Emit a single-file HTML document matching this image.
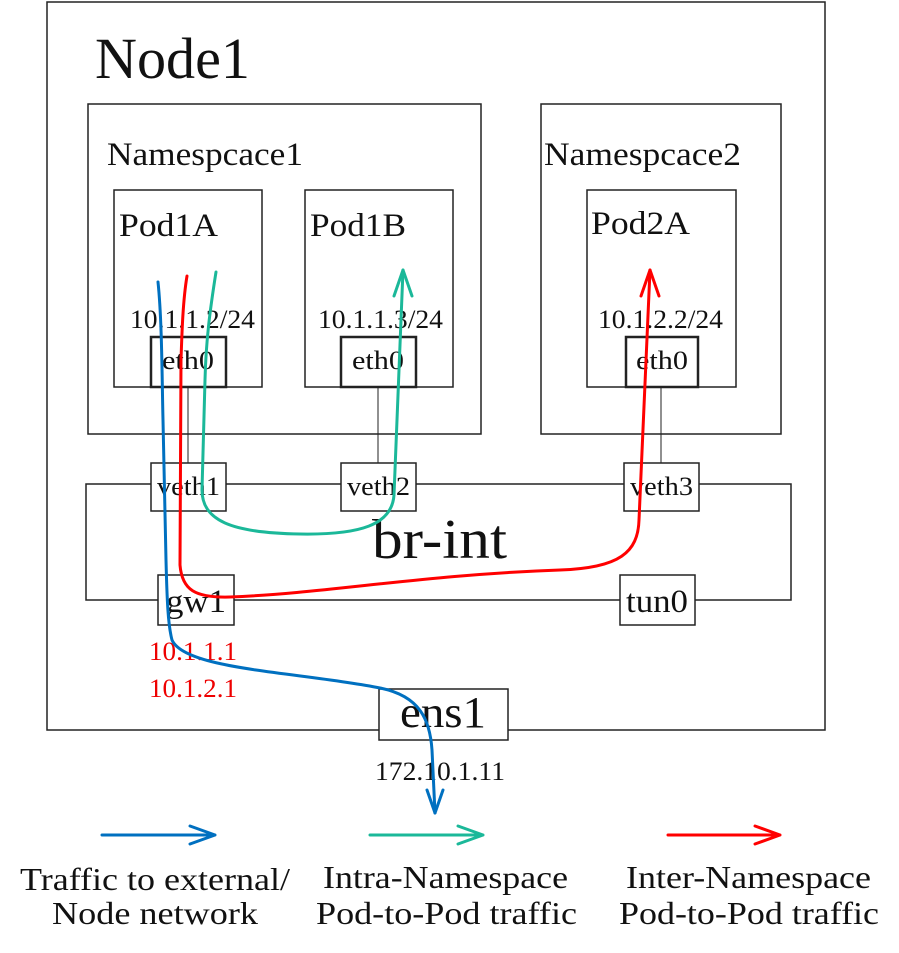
<!DOCTYPE html>
<html><head><meta charset="utf-8"><style>
html,body{margin:0;padding:0;background:#fff}
svg{display:block}
text{font-family:"Liberation Serif",serif;fill:#111}
</style></head><body>
<svg width="899" height="953" viewBox="0 0 899 953" xmlns="http://www.w3.org/2000/svg">
<g fill="none" stroke="#222" stroke-width="1.5">
<rect x="47" y="2" width="778" height="728"/>
<rect x="88" y="104" width="393" height="330"/>
<rect x="541" y="104" width="240" height="330"/>
<rect x="114" y="190" width="148" height="197"/>
<rect x="305" y="190" width="148" height="197"/>
<rect x="587" y="190" width="149" height="197"/>
<line x1="188" y1="387" x2="188" y2="463" stroke-width="1"/>
<line x1="378" y1="387" x2="378" y2="463" stroke-width="1"/>
<line x1="661" y1="387" x2="661" y2="463" stroke-width="1"/>
<rect x="86" y="484" width="705" height="116"/>
</g>
<g fill="#fff" stroke="#222" stroke-width="2.5">
<rect x="151" y="337" width="75" height="50"/>
<rect x="341" y="337" width="75" height="50"/>
<rect x="626" y="337" width="72" height="50"/>
</g>
<g fill="#fff" stroke="#222" stroke-width="1.5">
<rect x="151" y="463" width="75" height="48"/>
<rect x="341" y="463" width="75" height="48"/>
<rect x="624" y="463" width="75" height="48"/>
<rect x="158" y="575" width="76" height="50"/>
<rect x="620" y="575" width="75" height="50"/>
<rect x="379" y="689" width="129" height="51"/>
</g>
<text x="95" y="78" font-size="58" textLength="155" lengthAdjust="spacingAndGlyphs">Node1</text>
<text x="107" y="165" font-size="33" textLength="196" lengthAdjust="spacingAndGlyphs">Namespcace1</text>
<text x="544" y="165" font-size="33" textLength="197" lengthAdjust="spacingAndGlyphs">Namespcace2</text>
<text x="119" y="236" font-size="33" textLength="99" lengthAdjust="spacingAndGlyphs">Pod1A</text>
<text x="310" y="236" font-size="33" textLength="96" lengthAdjust="spacingAndGlyphs">Pod1B</text>
<text x="591" y="234" font-size="33" textLength="99" lengthAdjust="spacingAndGlyphs">Pod2A</text>
<text x="130" y="328" font-size="26" textLength="125" lengthAdjust="spacingAndGlyphs">10.1.1.2/24</text>
<text x="318" y="328" font-size="26" textLength="125" lengthAdjust="spacingAndGlyphs">10.1.1.3/24</text>
<text x="598" y="328" font-size="26" textLength="125" lengthAdjust="spacingAndGlyphs">10.1.2.2/24</text>
<text x="162" y="369" font-size="26" textLength="52" lengthAdjust="spacingAndGlyphs">eth0</text>
<text x="352" y="369" font-size="26" textLength="52" lengthAdjust="spacingAndGlyphs">eth0</text>
<text x="636" y="369" font-size="26" textLength="52" lengthAdjust="spacingAndGlyphs">eth0</text>
<text x="157" y="495" font-size="26" textLength="63" lengthAdjust="spacingAndGlyphs">veth1</text>
<text x="347" y="495" font-size="26" textLength="63" lengthAdjust="spacingAndGlyphs">veth2</text>
<text x="630" y="495" font-size="26" textLength="63" lengthAdjust="spacingAndGlyphs">veth3</text>
<text x="166" y="612" font-size="33" textLength="60" lengthAdjust="spacingAndGlyphs">gw1</text>
<text x="626" y="612" font-size="33" textLength="62" lengthAdjust="spacingAndGlyphs">tun0</text>
<text x="372" y="558" font-size="56" textLength="135" lengthAdjust="spacingAndGlyphs">br-int</text>
<text x="400" y="727" font-size="44" textLength="86" lengthAdjust="spacingAndGlyphs">ens1</text>
<text x="149" y="660" font-size="26" textLength="88" lengthAdjust="spacingAndGlyphs" style="fill:#e00">10.1.1.1</text>
<text x="149" y="697" font-size="26" textLength="88" lengthAdjust="spacingAndGlyphs" style="fill:#e00">10.1.2.1</text>
<text x="375" y="780" font-size="26" textLength="130" lengthAdjust="spacingAndGlyphs">172.10.1.11</text>
<g fill="none" stroke-width="3" stroke-linecap="round" stroke-linejoin="round">
<path d="M216,272 C210,310 206,340 205,380 L202,490 C202,520 230,533 300,534 C360,535 392,525 394,495 L403,270" stroke="#1bb899"/>
<path d="M394,296 L403,270 L412,296" stroke="#1bb899"/>
<path d="M187,276 C183,300 182,330 181,360 L180,565 C182,590 195,598 230,597 C330,593 420,575 560,570 C620,568 638,552 639,520 L650,270" stroke="#f00"/>
<path d="M641,296 L650,270 L659,296" stroke="#f00"/>
<path d="M158,282 C162,320 162,380 163,420 L166,560 C167,600 168,625 172,640 C185,670 300,672 380,688 C420,696 430,720 432,750 L435,813" stroke="#0070c0"/>
<path d="M427,790 L435,813 L443,790" stroke="#0070c0"/>
<path d="M102,835 L215,835 M190,826 L215,835 L190,844" stroke="#0070c0"/>
<path d="M370,835 L483,835 M458,826 L483,835 L458,844" stroke="#1bb899"/>
<path d="M668,835 L780,835 M755,826 L780,835 L755,844" stroke="#f00"/>
</g>
<g font-size="32">
<text x="20" y="890" textLength="270" lengthAdjust="spacingAndGlyphs">Traffic to external/</text>
<text x="52" y="924" textLength="206" lengthAdjust="spacingAndGlyphs">Node network</text>
<text x="323" y="888" textLength="245" lengthAdjust="spacingAndGlyphs">Intra-Namespace</text>
<text x="316" y="924" textLength="261" lengthAdjust="spacingAndGlyphs">Pod-to-Pod traffic</text>
<text x="626" y="888" textLength="245" lengthAdjust="spacingAndGlyphs">Inter-Namespace</text>
<text x="619" y="924" textLength="260" lengthAdjust="spacingAndGlyphs">Pod-to-Pod traffic</text>
</g>
</svg>
</body></html>
